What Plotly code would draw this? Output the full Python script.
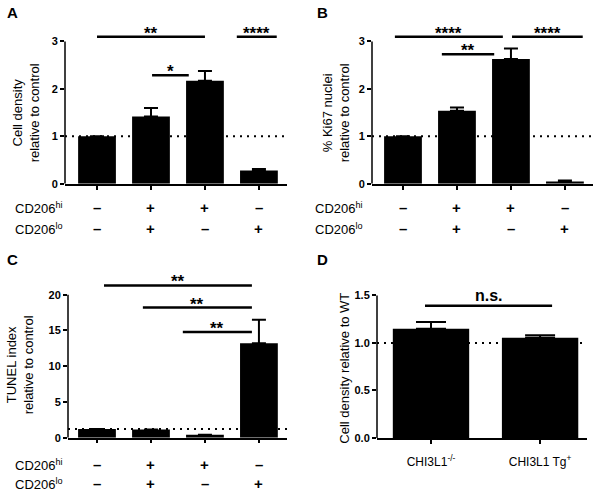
import plotly.graph_objects as go

# ---------------- data ----------------
positions = [0, 1, 2, 3]
cd206_hi = ["–", "+", "+", "–"]
cd206_lo = ["–", "+", "–", "+"]

a_values = [1.0, 1.42, 2.17, 0.28]
a_errors = [0.0, 0.18, 0.21, 0.03]
b_values = [1.0, 1.54, 2.63, 0.05]
b_errors = [0.0, 0.07, 0.22, 0.02]
c_values = [1.2, 1.15, 0.4, 13.2]
c_errors = [0.0, 0.0, 0.0, 3.3]
d_positions = [0, 1]
d_labels = ["CHI3L1<sup>-/-</sup>", "CHI3L1 Tg<sup>+</sup>"]
d_values = [1.15, 1.055]
d_errors = [0.07, 0.025]

a_ref, b_ref, c_ref, d_ref = 1.0, 1.0, 1.2, 1.0

# significance comparisons: (x_start, x_end, y, label)
a_sig = [(0.0, 2.0, 3.10, "**"), (1.02, 1.70, 2.29, "*"), (2.59, 3.33, 3.10, "****")]
b_sig = [(-0.15, 1.85, 3.10, "****"), (0.72, 1.69, 2.73, "**"), (2.02, 3.33, 3.10, "****")]
c_sig = [(0.13, 2.87, 21.3, "**"), (0.85, 2.87, 18.2, "**"), (1.59, 2.87, 14.8, "**")]
d_sig = [(-0.055, 1.11, 1.39, "n.s.")]

FONT = "Liberation Sans, Arial, sans-serif"
W, H = 600, 501

fig = go.Figure()

panels = [
    dict(ax="", vals=a_values, errs=a_errors, pos=positions, cap=7),
    dict(ax="2", vals=b_values, errs=b_errors, pos=positions, cap=7),
    dict(ax="3", vals=c_values, errs=c_errors, pos=positions, cap=7),
    dict(ax="4", vals=d_values, errs=d_errors, pos=d_positions, cap=15),
]
for p in panels:
    fig.add_trace(go.Bar(
        x=p["pos"], y=p["vals"], width=0.7,
        marker=dict(color="black", line=dict(width=0)),
        error_y=dict(type="data", symmetric=False, array=p["errs"],
                     arrayminus=[0] * len(p["errs"]), color="black",
                     thickness=2, width=p["cap"]),
        xaxis="x" + p["ax"], yaxis="y" + p["ax"], showlegend=False, hoverinfo="skip",
    ))

def px_to_paper_y(py):
    return 1 - py / H

def xaxis(domain, rng, tickvals, ticktext=None, anchor="y"):
    d = dict(domain=domain, range=rng, anchor=anchor, showline=True, linecolor="black",
             linewidth=1.5, ticks="outside", ticklen=4, tickwidth=1.5, tickcolor="black",
             tickvals=tickvals, showgrid=False, zeroline=False, fixedrange=True)
    if ticktext is None:
        d["showticklabels"] = False
    else:
        d["ticktext"] = ticktext
        d["ticklabelstandoff"] = 8
        d["tickfont"] = dict(family=FONT, size=12, color="black")
    return d

def yaxis(domain, rng, tickvals, anchor="x", fmt=None):
    d = dict(domain=domain, range=rng, anchor=anchor, showline=False, ticks="outside",
             ticklen=4, tickwidth=1.5, tickcolor="black", tickvals=tickvals,
             tickfont=dict(family=FONT, size=11, color="black", weight="bold"),
             showgrid=False, zeroline=False, fixedrange=True)
    if fmt:
        d["tickformat"] = fmt
    return d

fig.update_layout(
    width=W, height=H, margin=dict(l=0, r=0, t=0, b=0),
    paper_bgcolor="white", plot_bgcolor="white",
    xaxis=xaxis([65 / W, 287 / W], [-0.593, 3.52], positions, anchor="y"),
    yaxis=yaxis([px_to_paper_y(186), px_to_paper_y(186 - 3.3 * 48)], [0, 3.3], [0, 1, 2, 3], anchor="x"),
    xaxis2=xaxis([372 / W, 593 / W], [-0.574, 3.52], positions, anchor="y2"),
    yaxis2=yaxis([px_to_paper_y(186), px_to_paper_y(186 - 3.3 * 48)], [0, 3.3], [0, 1, 2, 3], anchor="x2"),
    xaxis3=xaxis([68 / W, 287 / W], [-0.537, 3.52], positions, anchor="y3"),
    yaxis3=yaxis([px_to_paper_y(443), px_to_paper_y(443 - 22.5 * 7.235)], [0, 22.5], [0, 5, 10, 15, 20], anchor="x3"),
    xaxis4=xaxis([377 / W, 587 / W], [-0.495, 1.43], d_positions, ticktext=d_labels, anchor="y4"),
    yaxis4=yaxis([px_to_paper_y(443.3), px_to_paper_y(443.3 - 1.62 * 96.2)], [0, 1.62], [0, 0.5, 1.0, 1.5], anchor="x4", fmt=".1f"),
)

shapes = []
annotations = []

panel_info = [
    ("", 3, a_ref, a_sig), ("2", 3, b_ref, b_sig), ("3", 20, c_ref, c_sig), ("4", 1.5, d_ref, d_sig)
]
for ax, ytop, ref, sig in panel_info:
    xr = "x" + ax
    yr = "y" + ax
    shapes.append(dict(type="line", xref=xr + " domain", yref=yr, x0=0, x1=0, y0=0, y1=ytop,
                       line=dict(color="black", width=1.5)))
    shapes.append(dict(type="line", xref=xr + " domain", yref=yr, x0=0, x1=1, y0=ref, y1=ref,
                       line=dict(color="black", width=2, dash="2px,5px"), layer="below"))
    for x0, x1, y, lab in sig:
        shapes.append(dict(type="line", xref=xr, yref=yr, x0=x0, x1=x1, y0=y, y1=y,
                           line=dict(color="black", width=2.5)))
        if lab == "n.s.":
            annotations.append(dict(xref=xr, yref=yr, x=(x0 + x1) / 2, y=y, text="<b>n.s.</b>",
                                    showarrow=False, yanchor="bottom", yshift=0,
                                    font=dict(family=FONT, size=16, color="black")))
        else:
            annotations.append(dict(xref=xr, yref=yr, x=(x0 + x1) / 2, y=y, text="<b>" + lab + "</b>",
                                    showarrow=False, yanchor="bottom", yshift=-8,
                                    font=dict(family=FONT, size=17, color="black")))

for ax, row_x, shifts in [("", 13, (-24, -45)), ("2", 313, (-24, -45)), ("3", 13, (-27, -46))]:
    xr = "x" + ax
    yr = "y" + ax + " domain"
    annotations.append(dict(xref="paper", yref=yr, x=row_x / W, y=0, yshift=shifts[0],
                            text="CD206<sup>hi</sup>", showarrow=False, xanchor="left", yanchor="middle",
                            font=dict(family=FONT, size=13, color="black")))
    annotations.append(dict(xref="paper", yref=yr, x=row_x / W, y=0, yshift=shifts[1],
                            text="CD206<sup>lo</sup>", showarrow=False, xanchor="left", yanchor="middle",
                            font=dict(family=FONT, size=13, color="black")))
    for i, pos in enumerate(positions):
        annotations.append(dict(xref=xr, yref=yr, x=pos, y=0, yshift=shifts[0], text="<b>" + cd206_hi[i] + "</b>",
                                showarrow=False, yanchor="middle", font=dict(family=FONT, size=15, color="black")))
        annotations.append(dict(xref=xr, yref=yr, x=pos, y=0, yshift=shifts[1], text="<b>" + cd206_lo[i] + "</b>",
                                showarrow=False, yanchor="middle", font=dict(family=FONT, size=15, color="black")))

for ax, x_px, text in [("", 26, "Cell density<br>relative to control"),
                       ("2", 336, "% Ki67 nuclei<br>relative to control"),
                       ("3", 20, "TUNEL index<br>relative to control"),
                       ("4", 345, "Cell density relative to WT")]:
    annotations.append(dict(xref="paper", yref="y" + ax + " domain", x=x_px / W, y=0.45,
                            text=text, textangle=-90, showarrow=False, xanchor="center", yanchor="middle",
                            font=dict(family=FONT, size=13, color="black")))

for letter, x_px, y_px in [("A", 5, 13), ("B", 315, 13), ("C", 5, 263), ("D", 315, 263)]:
    annotations.append(dict(xref="paper", yref="paper", x=x_px / W, y=px_to_paper_y(y_px), text="<b>" + letter + "</b>",
                            showarrow=False, xanchor="left", yanchor="middle",
                            font=dict(family=FONT, size=15, color="black")))

fig.update_layout(shapes=shapes, annotations=annotations, hovermode=False)
fig.write_html(
    "out.html", config={"displayModeBar": False},
    post_script=("document.documentElement.style.margin='0px';"
                 "document.body.style.margin='0px';"
                 "document.documentElement.style.overflow='hidden';"
                 "document.body.style.overflow='hidden';"),
)
